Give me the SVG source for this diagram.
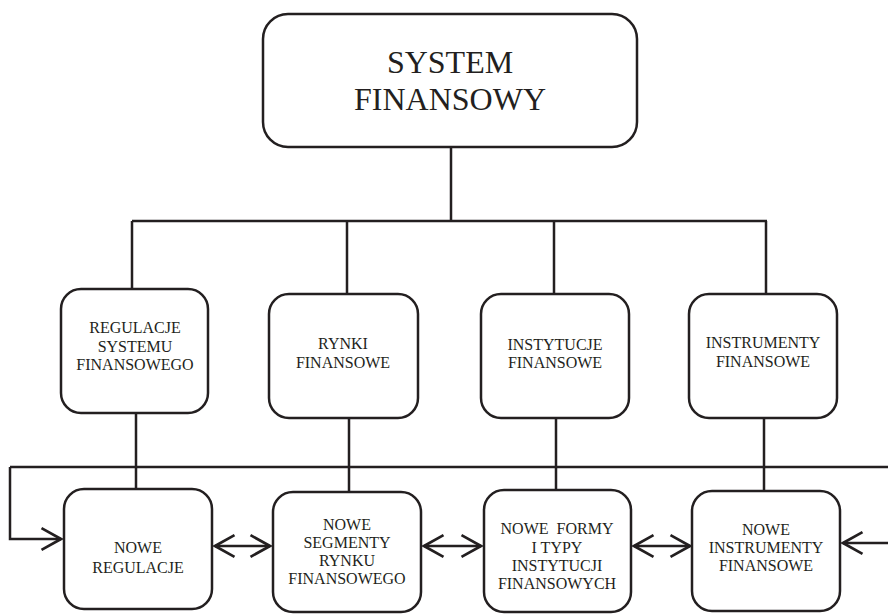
<svg xmlns="http://www.w3.org/2000/svg" width="888" height="615" viewBox="0 0 888 615">
<style>
.box{fill:#fff;stroke:#231f20;stroke-width:2.5}
.ln{fill:none;stroke:#231f20;stroke-width:2.5}
text{font-family:"Liberation Serif","Times New Roman",serif;fill:#231f20;text-anchor:middle}
.big{font-size:32px}
.sm{font-size:16px}
</style>
<defs>
<marker id="ah" markerUnits="userSpaceOnUse" markerWidth="24" markerHeight="26" viewBox="-20 -12 22 24" refX="0" refY="0" orient="auto-start-reverse">
<path d="M-18,-10 L0,0 L-18,10" fill="none" stroke="#231f20" stroke-width="2.5"/>
</marker>
</defs>
<g id="connectors">
<path class="ln" d="M451,147 V221 M132,221 H767 M132,221 V289 M347,221 V294 M554,221 V294 M766,221 V294"/>
<path class="ln" d="M136,413 V489 M349,418 V492 M556,418 V490 M764,418 V491"/>
<path class="ln" d="M10,467 H888"/>
<path class="ln" d="M10,467 V539 H61" marker-end="url(#ah)"/>
<path class="ln" d="M888,543 H843" marker-end="url(#ah)"/>
<path class="ln" d="M215,546 H270" marker-start="url(#ah)" marker-end="url(#ah)"/>
<path class="ln" d="M424,546 H481" marker-start="url(#ah)" marker-end="url(#ah)"/>
<path class="ln" d="M634,546 H690" marker-start="url(#ah)" marker-end="url(#ah)"/>
</g>
<g id="system">
<rect class="box" x="263" y="14" width="374" height="133" rx="25"/>
<text class="big" x="450" y="73">SYSTEM</text>
<text class="big" x="450" y="110">FINANSOWY</text>
</g>
<g id="regulacje">
<rect class="box" x="61" y="289" width="147" height="124" rx="20"/>
<text class="sm" x="135" y="333">REGULACJE</text>
<text class="sm" x="135" y="352">SYSTEMU</text>
<text class="sm" x="135" y="370">FINANSOWEGO</text>
</g>
<g id="rynki">
<rect class="box" x="269" y="294" width="149" height="124" rx="20"/>
<text class="sm" x="343" y="349">RYNKI</text>
<text class="sm" x="343" y="368">FINANSOWE</text>
</g>
<g id="instytucje">
<rect class="box" x="481" y="294" width="148" height="124" rx="20"/>
<text class="sm" x="555" y="350">INSTYTUCJE</text>
<text class="sm" x="555" y="368">FINANSOWE</text>
</g>
<g id="instrumenty">
<rect class="box" x="689" y="294" width="148" height="124" rx="20"/>
<text class="sm" x="763" y="348">INSTRUMENTY</text>
<text class="sm" x="763" y="367">FINANSOWE</text>
</g>
<g id="nowe-regulacje">
<rect class="box" x="64" y="489" width="148" height="120" rx="20"/>
<text class="sm" x="138" y="553">NOWE</text>
<text class="sm" x="138" y="573">REGULACJE</text>
</g>
<g id="nowe-segmenty">
<rect class="box" x="273" y="492" width="148" height="120" rx="20"/>
<text class="sm" x="347" y="530">NOWE</text>
<text class="sm" x="347" y="548">SEGMENTY</text>
<text class="sm" x="347" y="566">RYNKU</text>
<text class="sm" x="347" y="584">FINANSOWEGO</text>
</g>
<g id="nowe-formy">
<rect class="box" x="484" y="490" width="147" height="122" rx="20"/>
<text class="sm" x="557" y="534" xml:space="preserve">NOWE  FORMY</text>
<text class="sm" x="557" y="553">I TYPY</text>
<text class="sm" x="557" y="571">INSTYTUCJI</text>
<text class="sm" x="557" y="589">FINANSOWYCH</text>
</g>
<g id="nowe-instrumenty">
<rect class="box" x="692" y="491" width="148" height="120" rx="20"/>
<text class="sm" x="766" y="535">NOWE</text>
<text class="sm" x="766" y="553">INSTRUMENTY</text>
<text class="sm" x="766" y="571">FINANSOWE</text>
</g>
</svg>
